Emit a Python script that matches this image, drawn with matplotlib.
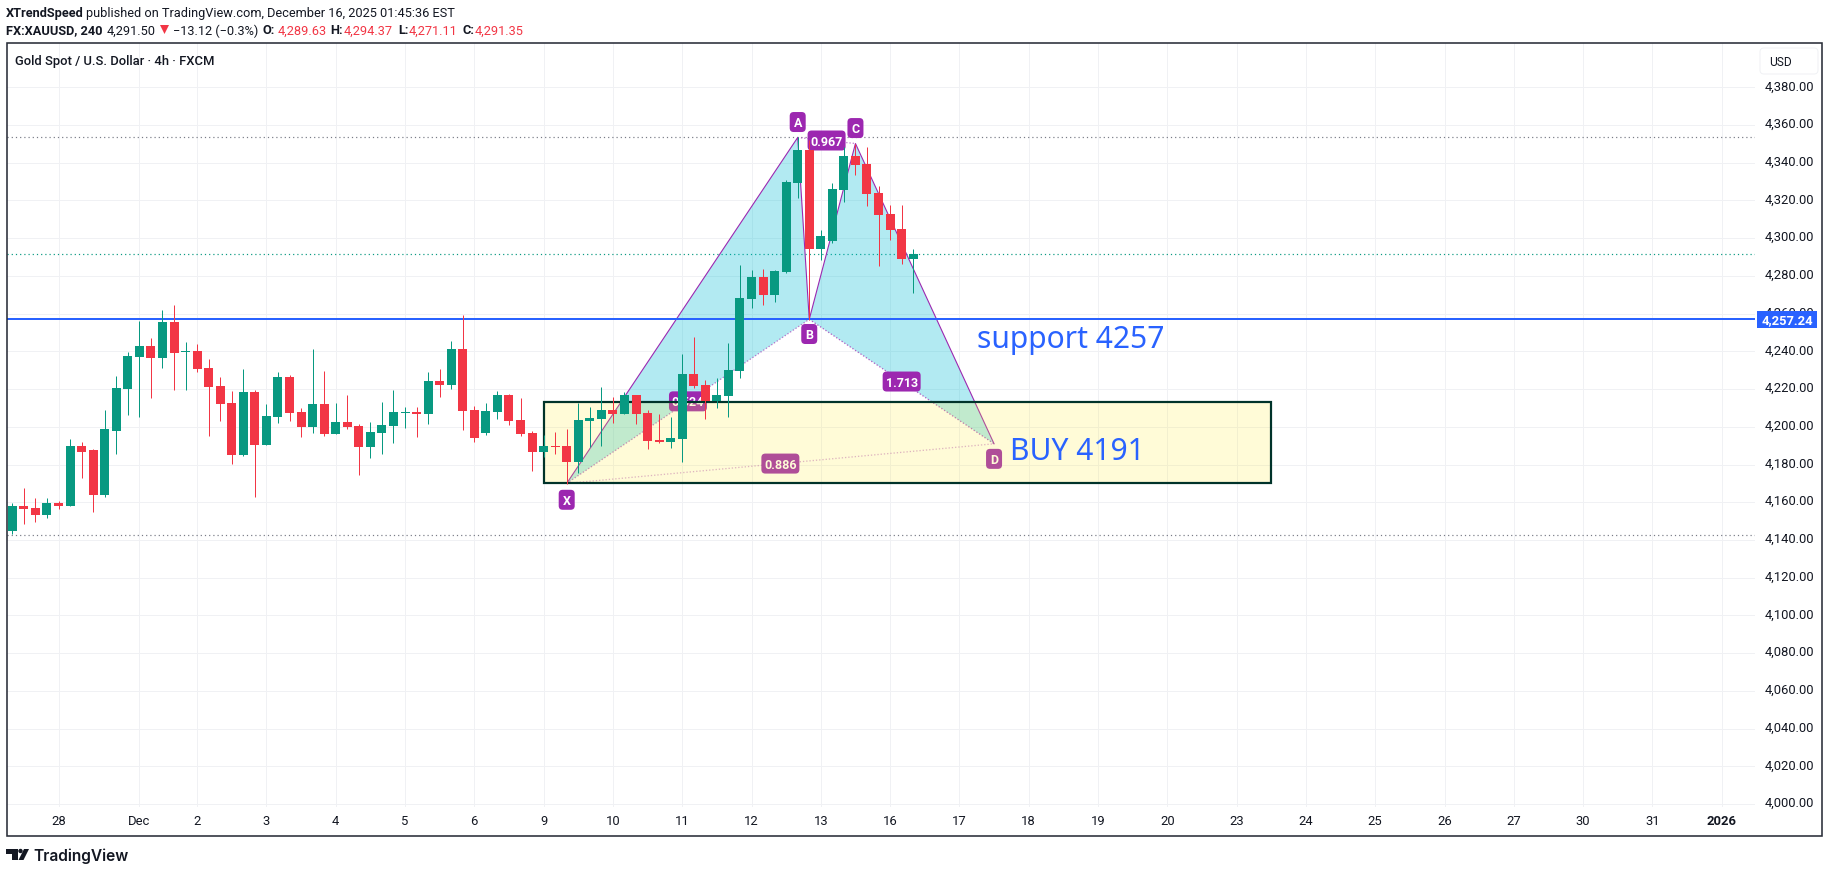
import matplotlib
matplotlib.use("Agg")
from matplotlib import pyplot as plt
from matplotlib.patches import FancyBboxPatch, Polygon, Rectangle, Circle
from matplotlib.transforms import ScaledTranslation

# candles, 4h bars from the left edge
opens = [4145, 4157.8, 4156.7, 4153, 4159.4, 4157.8, 4189.6, 4187.5, 4163.6, 4197.9,
         4220.1, 4237.1, 4242.9, 4236.6, 4255.7, 4239.8, 4240.3, 4231.3, 4221.7, 4212.7,
         4185.2, 4218.6, 4190.5, 4205.3, 4226.5, 4208, 4200, 4212.2, 4196.3, 4202.7,
         4200.5, 4189.4, 4196.8, 4200.5, 4207.4, 4208, 4206.9, 4224.4, 4222.3, 4241.3,
         4209.1, 4196.9, 4208, 4217, 4203.8, 4196.9, 4186.9, 4190, 4190, 4181.6,
         4203.3, 4204.3, 4209.1, 4207, 4217, 4207.5, 4193.2, 4192.2, 4193.7, 4228.2,
         4222.4, 4213.9, 4216.5, 4229.8, 4268, 4279.6, 4270, 4282, 4329.2, 4346.7,
         4294.2, 4298.5, 4325.5, 4343.5, 4339.3, 4323.9, 4312.8, 4304.8, 4288.9]
highs = [4159.5, 4167.3, 4162.5, 4162, 4160.4, 4193.3, 4192.2, 4188, 4209, 4227,
         4239.8, 4256.2, 4247.2, 4262, 4264.7, 4245, 4244, 4236, 4226.5, 4219,
         4230.7, 4219.6, 4212.2, 4229.2, 4227.6, 4210, 4241.3, 4229.7, 4212.7, 4217,
         4201.6, 4202.7, 4213.3, 4219.6, 4210.6, 4210.6, 4229.2, 4230.7, 4245.6, 4259.4,
         4211.2, 4212.8, 4219.2, 4217.6, 4215.5, 4198, 4195.9, 4197.5, 4199, 4212.8,
         4210.7, 4221.3, 4216, 4218.7, 4217, 4209, 4207, 4205.4, 4238.8, 4247.8,
         4225, 4226, 4244.6, 4286, 4283.3, 4283.9, 4283.3, 4330.8, 4353.4, 4352,
         4304.3, 4329.2, 4348.5, 4350.2, 4348.3, 4327.6, 4317.6, 4317.6, 4294.2]
lows = [4143, 4148.2, 4149.3, 4151.4, 4156.2, 4157.8, 4173.1, 4154.6, 4163, 4185.7,
        4206.4, 4205.3, 4215.4, 4231.3, 4219.6, 4219.6, 4229.2, 4195.2, 4203.2, 4180.4,
        4184.6, 4163, 4190.5, 4202.1, 4203.2, 4194.7, 4196.8, 4195.2, 4196.3, 4199,
        4174.6, 4183.6, 4185.7, 4191.5, 4199.5, 4194.7, 4201.6, 4215.9, 4220.1, 4198.4,
        4192.2, 4195.9, 4204.3, 4201.2, 4195.3, 4176.3, 4184.2, 4185.8, 4169.9, 4175.7,
        4189.5, 4190, 4202, 4207, 4201.7, 4188, 4191.6, 4189, 4181.6, 4220.8,
        4204.3, 4210.2, 4205.4, 4226.1, 4263.2, 4264.8, 4266.4, 4281.5, 4321.3, 4256.6,
        4288.4, 4297.4, 4319.2, 4333.5, 4317, 4285.2, 4299, 4286.3, 4271]
closes = [4158, 4156.2, 4153, 4159.4, 4157.8, 4189.6, 4186.9, 4163.6, 4198.6, 4220.7,
          4237.6, 4242.9, 4236.6, 4255.7, 4239.2, 4240.3, 4230.7, 4221.2, 4212.2, 4185.2,
          4218.6, 4190.5, 4205.8, 4226.5, 4207.4, 4200, 4212.2, 4196.3, 4202.7, 4200,
          4189.4, 4197.4, 4201, 4208, 4207.9, 4206.9, 4224.4, 4222.3, 4241.3, 4208.5,
          4194.3, 4208.6, 4217, 4203.3, 4196.4, 4186.9, 4190, 4189.5, 4181.6, 4203.8,
          4204.9, 4209.1, 4207, 4217, 4207, 4192.7, 4192.2, 4194.3, 4228.2, 4221.8,
          4213.9, 4217, 4230.3, 4268.5, 4279.6, 4270, 4282.8, 4329.8, 4346.7, 4294.2,
          4301.1, 4326, 4343.5, 4338.8, 4323.4, 4312.3, 4304.3, 4288.9, 4291.6]

price_ticks = list(range(4000, 4381, 20))
day_bars = [4, 11, 16, 22, 28, 34, 40, 46, 52, 58, 64, 70, 76, 82, 88, 94, 100, 106, 112, 118, 124, 130, 136, 142, 148]
day_labels = ["28", "Dec", "2", "3", "4", "5", "6", "9", "10", "11", "12", "13", "16", "17", "18", "19", "20",
              "23", "24", "25", "26", "27", "30", "31", "2026"]

# XABCD harmonic pattern
point_names = ["X", "A", "B", "C", "D"]
point_bars = [48, 68, 69, 73, 85]
point_prices = [4170, 4353.4, 4257, 4350.2, 4191]
ratio_names = ["0.524", "0.967", "1.713", "0.886"]

high_level = 4353.4
low_level = 4142.7
last_price = 4291.4
support = 4257.24
zone_bars = [46, 109]
zone_prices = [4170.4, 4213.2]

GREEN = "#089981"
RED = "#F23645"
BLUE = "#2962FF"
PURPLE = "#9C27B0"
GRID = "#f0f1f4"
TEXT = "#131722"
FONT = "Roboto"

W, H = 1829, 873
BAR_PX = 11.55
USD_PX = 1.886
HEAD = 12.8


def px(n):
    return n * 0.72


fig = plt.figure(figsize=(W / 100, H / 100), dpi=100, facecolor="white")
plt.rcParams["font.family"] = [FONT, "DejaVu Sans"]

# main price pane, x is bar number, frame and header go on the overlay below
left, right, top, bottom = 6.5, 1755, 43, 807
ax = fig.add_axes([left / W, 1 - bottom / H, (right - left) / W, (bottom - top) / H])
ax.set_xlim((left - 12.3) / BAR_PX, (right - 12.3) / BAR_PX)
ax.set_ylim(4000 - (bottom - 804) / USD_PX, 4000 + (804 - top) / USD_PX)
for s in ax.spines.values():
    s.set_visible(False)
ax.yaxis.tick_right()
ax.set_yticks(price_ticks)
ax.set_yticklabels([f"{p:,.2f}" for p in price_ticks])
ax.set_xticks(day_bars)
ax.set_xticklabels(day_labels)
ax.tick_params(axis="y", length=0, pad=px(10), labelsize=px(13), labelcolor=TEXT)
ax.tick_params(axis="x", length=0, pad=px(8), labelsize=px(13), labelcolor=TEXT)
ax.get_xticklabels()[-1].set_fontweight("bold")
# price labels sit a bit higher than the default baseline centring
up = ScaledTranslation(0, 2 / 100, fig.dpi_scale_trans)
for lab in ax.get_yticklabels():
    lab.set_transform(lab.get_transform() + up)
ax.grid(True, color=GRID, lw=px(1))
ax.set_axisbelow(True)

# horizontal levels
ax.axhline(high_level, color="#787b86", lw=px(1.2), ls=(0, (1, 2.5)), zorder=1)
ax.axhline(low_level, color="#787b86", lw=px(1.2), ls=(0, (1, 2.5)), zorder=1)
ax.axhline(last_price, color=GREEN, lw=px(1.2), ls=(0, (1, 2.5)), zorder=1)
ax.axhline(support, color=BLUE, lw=px(2), zorder=1.5)

# pattern fills and legs
bx, ax_, bb, cx, dx = point_bars
xp, ap, bp, cp, dp = point_prices
ax.add_patch(Polygon([(bx, xp), (ax_, ap), (bb, bp)], fc=(0, 0.737, 0.831, 0.3), ec="none", zorder=1.1))
ax.add_patch(Polygon([(bb, bp), (cx, cp), (dx, dp)], fc=(0, 0.737, 0.831, 0.3), ec="none", zorder=1.1))
ax.plot(point_bars, point_prices, color=PURPLE, lw=px(1.1), zorder=1.2)
pairs = [(0, 2), (1, 3), (2, 4), (0, 4)]
dot_alpha = [0.6, 0.6, 0.7, 0.4]
for (i, j), a in zip(pairs, dot_alpha):
    ax.plot([point_bars[i], point_bars[j]], [point_prices[i], point_prices[j]],
            color=PURPLE, lw=px(1.3), ls=(0, (1, 1.5)), alpha=a, zorder=1.2)


def tag(x, y, txt, w):
    # purple chip, sized in pixels
    bw, bh = w / BAR_PX, 20 / USD_PX
    ax.add_patch(FancyBboxPatch((x - bw / 2, y - bh / 2), bw, bh,
                                boxstyle=f"round,pad=0,rounding_size={4 / BAR_PX}",
                                mutation_aspect=BAR_PX / USD_PX, fc=PURPLE, ec="none", zorder=1.3))
    ax.text(x, y, txt, color="white", fontsize=px(12.5), fontweight="bold", ha="center", va="center_baseline", zorder=1.4)


# chips sit just off the points
chip_shift = [-8.7, 8.2, -7.8, 8.2, -8]
for n, b, p, sh in zip(point_names, point_bars, point_prices, chip_shift):
    tag(b, p + sh, n, 16)
for name, (i, j) in zip(ratio_names, pairs):
    tag((point_bars[i] + point_bars[j]) / 2, (point_prices[i] + point_prices[j]) / 2, name, 38)

# buy zone, goes over the pattern and under the candles
ax.add_patch(Rectangle((zone_bars[0], zone_prices[0]), zone_bars[1] - zone_bars[0], zone_prices[1] - zone_prices[0],
                       fc=(1, 0.92, 0.23, 0.2), ec="#00332a", lw=px(2.2), zorder=2))

# candles
body_w = 9 / BAR_PX
for i in range(len(opens)):
    c = GREEN if closes[i] >= opens[i] else RED
    ax.vlines(i, lows[i], highs[i], color=c, lw=px(1), zorder=3)
    ax.bar(i, abs(closes[i] - opens[i]), bottom=min(opens[i], closes[i]), width=body_w, color=c, lw=0, zorder=3.1)

ax.text(83.5, 4241.8, "support 4257", color=BLUE, fontsize=px(30), family="Noto Sans", ha="left", va="baseline", zorder=4)
ax.text(86.4, 4182.5, "BUY 4191", color=BLUE, fontsize=px(30), family="Noto Sans", ha="left", va="baseline", zorder=4)

# overlay in pixel coords for frame, header, logo
ov = fig.add_axes([0, 0, 1, 1], zorder=10)
ov.set_xlim(0, W)
ov.set_ylim(H, 0)
ov.axis("off")
ov.patch.set_alpha(0)
ov.add_patch(Rectangle((6.5, 43), 1815.5, 793, fc="none", ec="#2a2e39", lw=px(1.6)))

ov.add_patch(Rectangle((1757, 311), 60, 17, fc=BLUE, ec="none"))
ov.text(1787, 319.5, f"{support:,.2f}", color="white", fontsize=px(13), fontweight="bold", ha="center", va="center_baseline")
ov.add_patch(FancyBboxPatch((1760, 48), 58, 26, boxstyle="round,pad=0,rounding_size=4", fc="white", ec=GRID, lw=px(1)))
ov.text(1769, 61.5, "USD", color=TEXT, fontsize=px(12), ha="left", va="center_baseline")

ov.text(6, 12.5, "XTrendSpeed", color=TEXT, fontsize=px(HEAD), fontweight="bold", va="center_baseline")
ov.text(86.5, 12.5, "published on TradingView.com, December 16, 2025 01:45:36 EST", color=TEXT, fontsize=px(HEAD), va="center_baseline")
header_y = 29.5
ov.text(6, header_y, "FX:XAUUSD, 240", color=TEXT, fontsize=px(HEAD), fontweight="bold", va="center_baseline")
ov.text(107, header_y, "4,291.50", color=TEXT, fontsize=px(HEAD), va="center_baseline")
ov.add_patch(Polygon([(160, 25), (169, 25), (164.5, 34)], fc=RED, ec="none"))
ov.text(173, header_y, "\u221213.12 (\u22120.3%)", color=TEXT, fontsize=px(HEAD), va="center_baseline")
for x, lab, x2, val in [(262.5, "O:", 277.5, "4,289.63"), (330.6, "H:", 344, "4,294.37"),
                        (398.4, "L:", 408.3, "4,271.11"), (462.3, "C:", 474.5, "4,291.35")]:
    ov.text(x, header_y, lab, color=TEXT, fontsize=px(HEAD), fontweight="bold", va="center_baseline")
    ov.text(x2, header_y, val, color=RED, fontsize=px(HEAD), va="center_baseline")
ov.text(15, 60.5, "Gold Spot / U.S. Dollar \u00b7 4h \u00b7 FXCM", color=TEXT, fontsize=px(13), fontweight="medium", va="center_baseline")

# logo mark
ov.add_patch(Polygon([(6, 849), (18, 849), (18, 860), (12, 860), (12, 853.5), (6, 853.5)], fc=TEXT, ec="none"))
ov.add_patch(Circle((20.5, 851), 2.2, fc=TEXT, ec="none"))
ov.add_patch(Polygon([(24, 849), (29, 849), (23.5, 860), (18.5, 860)], fc=TEXT, ec="none"))
ov.text(33, 855, "TradingView", color=TEXT, fontsize=px(15.5), family="Inter", fontweight="semibold", va="center_baseline")

fig.savefig("out.png", dpi=100)
plt.close(fig)
